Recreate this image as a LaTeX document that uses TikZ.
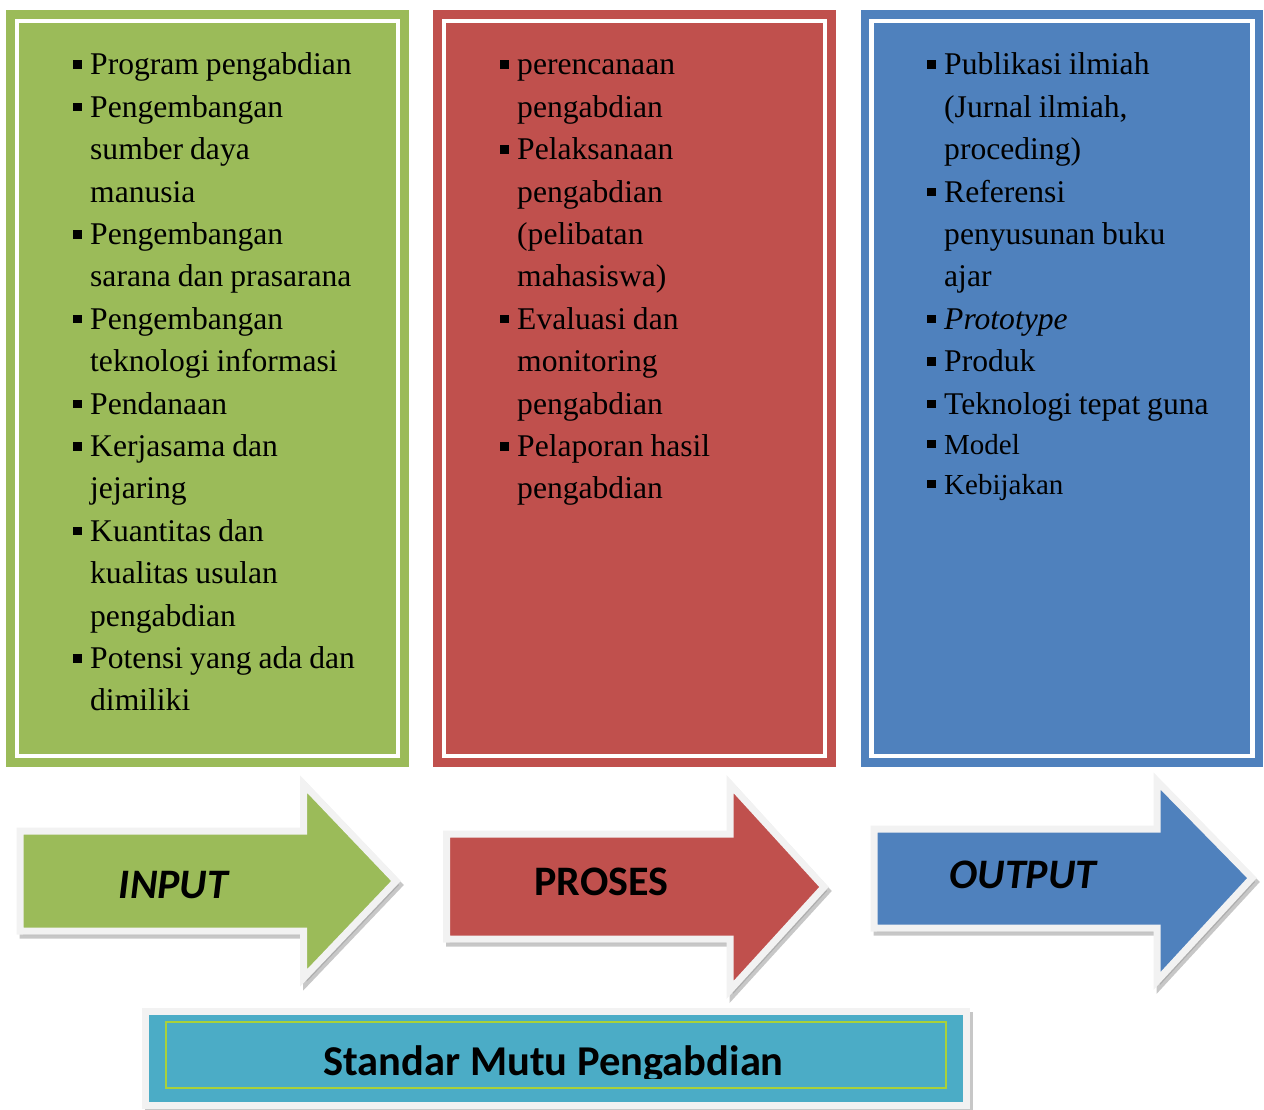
\documentclass[tikz,border=0pt]{standalone}
\usepackage{fontspec}
\setmainfont{Liberation Serif}
\newfontfamily\calibrifont{Carlito}
\usetikzlibrary{positioning}

\definecolor{ingreen}{HTML}{9BBB59}
\definecolor{procred}{HTML}{C0504D}
\definecolor{outblue}{HTML}{4F81BD}
\definecolor{stdteal}{HTML}{4BACC6}
\definecolor{rimgray}{HTML}{F2F2F2}
\definecolor{lineyellow}{HTML}{A9D13A}

% list item with a small square bullet and hanging indent
\newcommand{\pitem}[1]{\spaceskip=0.22em plus 0.05em minus 0.05em\relax
  \hangindent=17pt\hangafter=1\noindent\makebox[17pt][l]{\rule[6pt]{8.5pt}{8.5pt}}#1\par}

\begin{document}
\begin{tikzpicture}[
    x=1pt, y=-1pt,
    panel/.style={rectangle, minimum width=403pt, minimum height=757pt, inner sep=0pt},
    frame/.style={rectangle, draw=white, line width=4.5pt, minimum width=381pt, minimum height=735pt, inner sep=0pt},
    itemlist/.style={anchor=base west, text width=330pt, align=left, inner sep=0pt, font=\fontsize{31.6}{42.4}\selectfont},
    shadowed/.style={preaction={fill=black!40, draw=black!40, line width=7pt, fill opacity=0.55, draw opacity=0.55, transform canvas={shift={(3,4)}}}},
    arrowshape/.style={shadowed, draw=rimgray, line width=7pt, line join=miter},
    arrowlabel/.style={anchor=base, inner sep=0pt, font=\calibrifont\bfseries\fontsize{42}{50}\selectfont},
    stdbox/.style={shadowed, rectangle, fill=stdteal, draw=rimgray, line width=7pt, minimum width=821.5pt, minimum height=94pt, inner sep=0pt}
]
\useasboundingbox (0,0) rectangle (1264,1110);

% panels
\node[panel, fill=ingreen] (inpanel) at (207.5,388.5) {};
\node[frame] (inframe) at (inpanel.center) {};
\node[panel, fill=procred] (procpanel) at (634.5,388.5) {};
\node[frame] (procframe) at (procpanel.center) {};
\node[panel, fill=outblue, minimum width=402pt] (outpanel) at (1062,388.5) {};
\node[frame] (outframe) at (outpanel.center) {};

\node[itemlist] (inlist) at (73,75) {%
\pitem{Program pengabdian}
\pitem{Pengembangan\newline sumber daya\newline manusia}
\pitem{Pengembangan\newline sarana dan prasarana}
\pitem{Pengembangan\newline teknologi informasi}
\pitem{Pendanaan}
\pitem{Kerjasama dan\newline jejaring}
\pitem{Kuantitas dan\newline kualitas usulan\newline pengabdian}
\pitem{Potensi yang ada dan\newline dimiliki}};

\node[itemlist] (proclist) at (500,75) {%
\pitem{perencanaan\newline pengabdian}
\pitem{Pelaksanaan\newline pengabdian\newline (pelibatan\newline mahasiswa)}
\pitem{Evaluasi dan\newline monitoring\newline pengabdian}
\pitem{Pelaporan hasil\newline pengabdian}};

\node[itemlist] (outlist) at (927,75) {%
\pitem{Publikasi ilmiah\newline (Jurnal ilmiah,\newline proceding)}
\pitem{Referensi\newline penyusunan buku\newline ajar}
\pitem{\textit{Prototype}}
\pitem{Produk}
\pitem{Teknologi tepat guna}
\fontsize{29}{40}\selectfont
\pitem{Model}
\pitem{Kebijakan}};

% block arrows
\draw[arrowshape, fill=ingreen] (20,831) -- (303.5,831) -- (303.5,784) -- (396,881)
    -- (303.5,978) -- (303.5,931) -- (20,931) -- cycle;
\draw[arrowshape, fill=procred] (446.5,834) -- (730,834) -- (730,784) -- (824,887)
    -- (730,990) -- (730,939) -- (446.5,939) -- cycle;
\draw[arrowshape, fill=outblue] (874,829) -- (1157,829) -- (1157,781) -- (1252,878)
    -- (1157,981) -- (1157,928) -- (874,928) -- cycle;

\node[arrowlabel] (inlabel) at (173.5,898) {\itshape INPUT};
\node[arrowlabel] (proclabel) at (601.5,895) {PROSES};
\node[arrowlabel] (outlabel) at (1023,888) {\itshape OUTPUT};

% standard box
\node[stdbox] (stdbox) at (555.75,1058) {};
\node[rectangle, draw=lineyellow, line width=1.5pt, minimum width=780pt, minimum height=66pt, inner sep=0pt] (stdframe) at (556,1055) {};
\begin{scope}
\clip (149,1015) rectangle (962,1078);
\node[arrowlabel, font=\calibrifont\bfseries\fontsize{42.5}{50}\selectfont] (stdlabel) at (553.5,1075) {Standar Mutu Pengabdian};
\end{scope}

\end{tikzpicture}
\end{document}
